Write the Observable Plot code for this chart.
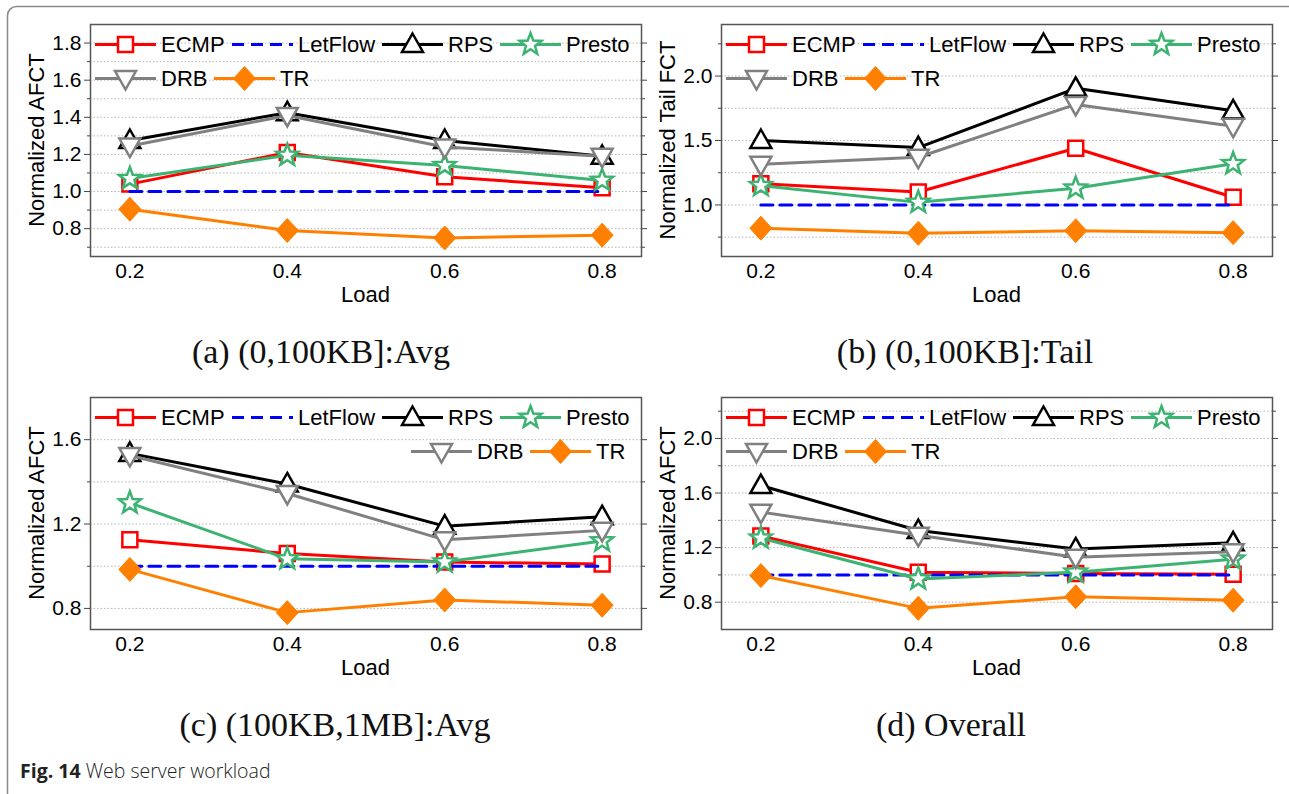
<!DOCTYPE html>
<html><head><meta charset="utf-8">
<script src="https://cdn.jsdelivr.net/npm/d3@7"></script>
<script src="https://cdn.jsdelivr.net/npm/@observablehq/plot@0.6"></script>
<style>
body{margin:0;background:#fff;}
#wrap{position:relative;width:1289px;height:794px;overflow:hidden;background:#fff;}
#wrap svg{position:absolute;}
</style></head><body><div id="wrap"></div>
<script>
// ---------- data ----------
const loads = [0.2, 0.4, 0.6, 0.8];
const seriesNames = ["ECMP", "LetFlow", "RPS", "Presto", "DRB", "TR"];

// (a) (0,100KB]:Avg
const a_ECMP    = [1.04, 1.21, 1.08, 1.02];
const a_LetFlow = [1.0, 1.0, 1.0, 1.0];
const a_RPS     = [1.275, 1.425, 1.275, 1.19];
const a_Presto  = [1.07, 1.195, 1.14, 1.06];
const a_DRB     = [1.245, 1.41, 1.24, 1.19];
const a_TR      = [0.905, 0.79, 0.75, 0.765];

// (b) (0,100KB]:Tail
const b_ECMP    = [1.165, 1.10, 1.44, 1.06];
const b_LetFlow = [1.0, 1.0, 1.0, 1.0];
const b_RPS     = [1.50, 1.445, 1.905, 1.73];
const b_Presto  = [1.15, 1.02, 1.13, 1.32];
const b_DRB     = [1.315, 1.37, 1.78, 1.61];
const b_TR      = [0.82, 0.78, 0.80, 0.785];

// (c) (100KB,1MB]:Avg
const c_ECMP    = [1.125, 1.06, 1.02, 1.01];
const c_LetFlow = [1.0, 1.0, 1.0, 1.0];
const c_RPS     = [1.535, 1.39, 1.19, 1.235];
const c_Presto  = [1.30, 1.035, 1.02, 1.12];
const c_DRB     = [1.525, 1.345, 1.125, 1.17];
const c_TR      = [0.985, 0.78, 0.84, 0.815];

// (d) Overall
const d_ECMP    = [1.285, 1.02, 1.01, 1.005];
const d_LetFlow = [1.0, 1.0, 1.0, 1.0];
const d_RPS     = [1.655, 1.325, 1.19, 1.235];
const d_Presto  = [1.27, 0.97, 1.02, 1.115];
const d_DRB     = [1.46, 1.29, 1.13, 1.17];
const d_TR      = [0.995, 0.755, 0.84, 0.815];

// axis ticks
const a_yMajor = [0.8, 1.0, 1.2, 1.4, 1.6, 1.8];
const a_yMinor = [0.7, 0.9, 1.1, 1.3, 1.5, 1.7];
const b_yMajor = [1.0, 1.5, 2.0];
const b_yMinor = [0.75, 1.25, 1.75, 2.25];
const c_yMajor = [0.8, 1.2, 1.6];
const c_yMinor = [1.0, 1.4];
const d_yMajor = [0.8, 1.2, 1.6, 2.0];
const d_yMinor = [1.0, 1.4, 1.8, 2.2];

const titles = ["(a) (0,100KB]:Avg", "(b) (0,100KB]:Tail", "(c) (100KB,1MB]:Avg", "(d) Overall"];
const yLabels = ["Normalized AFCT", "Normalized Tail FCT", "Normalized AFCT", "Normalized AFCT"];
const xLabel = "Load";
const captionBold = "Fig. 14";
const captionText = " Web server workload";

// ---------- styles ----------
function star(R, r) {
  return {draw(c) {
    for (let i = 0; i < 10; i++) {
      const a = -Math.PI / 2 + i * Math.PI / 5, rr = i % 2 ? r : R;
      const px = rr * Math.cos(a), py = rr * Math.sin(a);
      i ? c.lineTo(px, py) : c.moveTo(px, py);
    }
    c.closePath();
  }};
}
const symSquare = {draw(c){c.moveTo(-7.5,-7.5);c.lineTo(7.5,-7.5);c.lineTo(7.5,7.5);c.lineTo(-7.5,7.5);c.closePath();}};
const symUp = {draw(c){c.moveTo(0,-11);c.lineTo(10.5,7.5);c.lineTo(-10.5,7.5);c.closePath();}};
const symDown = {draw(c){c.moveTo(0,11);c.lineTo(10.5,-7.5);c.lineTo(-10.5,-7.5);c.closePath();}};
const symDiamond = {draw(c){c.moveTo(0,-12);c.lineTo(11,0);c.lineTo(0,12);c.lineTo(-11,0);c.closePath();}};
const symStar = star(11.5, 4.8);

const style = {
  ECMP:    {color: "#ff0000", symbol: symSquare, fill: "#fff"},
  LetFlow: {color: "#0000ff", symbol: null, dash: "12,7"},
  RPS:     {color: "#000000", symbol: symUp, fill: "#fff"},
  Presto:  {color: "#3cb371", symbol: symStar, fill: "#fff"},
  DRB:     {color: "#808080", symbol: symDown, fill: "#fff"},
  TR:      {color: "#ff8000", symbol: symDiamond, fill: "#ff8000"}
};

const panels = [
  {left: 0,   top: 0,   width: 645, ml: 90, mr: 4,  domain: [0.65, 1.9], major: a_yMajor, minor: a_yMinor,
   values: [a_ECMP, a_LetFlow, a_RPS, a_Presto, a_DRB, a_TR], row2: [5, 124]},
  {left: 645, top: 0,   width: 644, ml: 76, mr: 17, domain: [0.6, 2.4],  major: b_yMajor, minor: b_yMinor,
   values: [b_ECMP, b_LetFlow, b_RPS, b_Presto, b_DRB, b_TR], row2: [5, 124]},
  {left: 0,   top: 373, width: 645, ml: 90, mr: 4,  domain: [0.7, 1.8],  major: c_yMajor, minor: c_yMinor,
   values: [c_ECMP, c_LetFlow, c_RPS, c_Presto, c_DRB, c_TR], row2: [321, 440]},
  {left: 645, top: 373, width: 644, ml: 76, mr: 17, domain: [0.6, 2.3],  major: d_yMajor, minor: d_yMinor,
   values: [d_ECMP, d_LetFlow, d_RPS, d_Presto, d_DRB, d_TR], row2: [5, 124]}
];
const titlePos = [[321, 363], [965, 363], [335, 736], [951, 736]];

const wrap = document.getElementById("wrap");

// background overlay: outer frame, titles, caption
const over = d3.create("svg").attr("width", 1289).attr("height", 794).style("left", "0px").style("top", "0px");
over.append("rect").attr("x", 7.5).attr("y", 6.5).attr("width", 1300).attr("height", 900).attr("rx", 9)
  .attr("fill", "none").attr("stroke", "#8a8a8a").attr("stroke-width", 1.5);
titles.forEach((t, i) => {
  over.append("text").attr("x", titlePos[i][0]).attr("y", titlePos[i][1]).attr("text-anchor", "middle")
    .attr("font-family", "'Liberation Serif', 'DejaVu Serif', serif").attr("font-size", 34).attr("fill", "#111").text(t);
});
const cap = over.append("text").attr("x", 20).attr("y", 778).attr("text-anchor", "start")
  .attr("font-family", "'Open Sans', 'Noto Sans', sans-serif").attr("font-size", 19.5).attr("fill", "#222");
cap.append("tspan").attr("font-weight", "bold").text(captionBold);
cap.append("tspan").attr("font-weight", 300).text(captionText);
wrap.appendChild(over.node());

function symbolPath(sym) { const p = d3.path(); sym.draw(p); return p.toString(); }

panels.forEach((p, pi) => {
  const H = 320, mt = 24, mb = 64;
  const marks = [
    Plot.gridY([...p.major, ...p.minor], {stroke: "#b5b5b5", strokeOpacity: 1, strokeWidth: 1, strokeDasharray: "1.5,2"}),
    Plot.axisY(p.major, {anchor: "left", tickSize: 6, tickPadding: 3, tickFormat: ".1f", label: null, stroke: "#444", fill: "#000"}),
    Plot.axisY(p.minor, {anchor: "left", tickSize: 3, tickFormat: () => "", label: null, stroke: "#444"}),
    Plot.axisY(p.major, {anchor: "right", tickSize: 5, tickFormat: () => "", label: null, stroke: "#444"}),
    Plot.axisY(p.minor, {anchor: "right", tickSize: 3, tickFormat: () => "", label: null, stroke: "#444"}),
    Plot.axisX(loads, {tickSize: 0, tickPadding: 7, tickFormat: ".1f", label: null, fill: "#000"}),
    Plot.frame({stroke: "#555", strokeWidth: 1.5})
  ];
  seriesNames.forEach((name, si) => {
    const s = style[name];
    const data = loads.map((x, i) => ({x, y: p.values[si][i]}));
    marks.push(Plot.line(data, {x: "x", y: "y", stroke: s.color, strokeWidth: 3, strokeDasharray: s.dash}));
    if (s.symbol) marks.push(Plot.dot(data, {x: "x", y: "y", symbol: s.symbol, r: 6, stroke: s.color,
      strokeWidth: name === "TR" ? 1 : 2.5, fill: s.fill, fillOpacity: 1}));
  });
  const svg = Plot.plot({
    width: p.width, height: H, marginLeft: p.ml, marginRight: p.mr, marginTop: mt, marginBottom: mb,
    style: {fontFamily: "'Liberation Sans', Arial, sans-serif", fontSize: "21px", background: "transparent", color: "#000", overflow: "visible"},
    x: {domain: [0.15, 0.85], label: null},
    y: {domain: p.domain, label: null},
    marks
  });
  svg.style.left = p.left + "px";
  svg.style.top = p.top + "px";
  const g = d3.select(svg).append("g").attr("font-family", "'Liberation Sans', Arial, sans-serif");
  const fl = p.ml, fr = p.width - p.mr, ft = mt, fb = H - mb;
  // axis titles
  g.append("text").attr("x", (fl + fr) / 2).attr("y", fb + 46).attr("text-anchor", "middle").attr("font-size", 22).text(xLabel);
  g.append("text").attr("transform", `translate(${fl - 54},${(ft + fb) / 2}) rotate(-90)`).attr("dy", "0.35em")
    .attr("text-anchor", "middle").attr("font-size", 22).text(yLabels[pi]);
  // legend
  const items = [["ECMP", 5, 20.5], ["LetFlow", 142, 20.5], ["RPS", 292, 20.5], ["Presto", 410, 20.5],
                 ["DRB", p.row2[0], 54.5], ["TR", p.row2[1], 54.5]];
  items.forEach(([name, dx, dy]) => {
    const s = style[name];
    const x0 = fl + dx, y0 = ft + dy;
    g.append("line").attr("x1", x0).attr("x2", x0 + 61).attr("y1", y0).attr("y2", y0)
      .attr("stroke", s.color).attr("stroke-width", 3).attr("stroke-dasharray", s.dash || null);
    if (s.symbol) g.append("path").attr("d", symbolPath(s.symbol)).attr("transform", `translate(${x0 + 30.5},${y0})`)
      .attr("fill", s.fill).attr("stroke", s.color).attr("stroke-width", name === "TR" ? 1 : 2.5);
    g.append("text").attr("x", x0 + 66).attr("y", y0).attr("dy", "0.35em").attr("text-anchor", "start")
      .attr("font-size", 22).text(name);
  });
  wrap.appendChild(svg);
});
</script></body></html>
